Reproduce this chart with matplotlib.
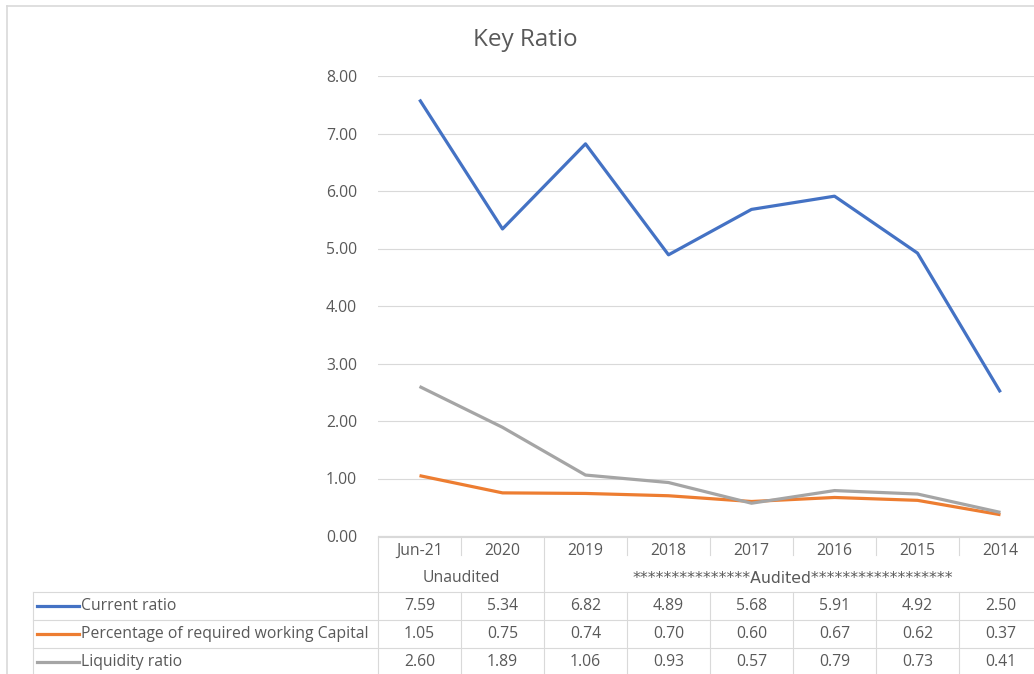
import matplotlib.pyplot as plt
import numpy as np

# data
categories = ["Jun-21", "2020", "2019", "2018", "2017", "2016", "2015", "2014"]
groups = [("Unaudited", 0, 1), ("***************Audited******************", 2, 7)]
series_names = ["Current ratio", "Percentage of required working Capital", "Liquidity ratio"]
current_ratio = [7.59, 5.34, 6.82, 4.89, 5.68, 5.91, 4.92, 2.50]
working_capital = [1.05, 0.75, 0.74, 0.70, 0.60, 0.67, 0.62, 0.37]
liquidity_ratio = [2.60, 1.89, 1.06, 0.93, 0.57, 0.79, 0.73, 0.41]
series = [current_ratio, working_capital, liquidity_ratio]
colors = ["#4472C4", "#ED7D31", "#A5A5A5"]

plt.rcParams['font.family'] = ['Open Sans', 'DejaVu Sans']
W, H = 1034, 674
fig = plt.figure(figsize=(W / 100, H / 100), dpi=100)
tc = "#595959"
fs = 11.3

# plot area in pixel coords
px_left, px_right, px_top, px_bot = 378, 1042, 76, 536
ax = fig.add_axes([px_left / W, 1 - px_bot / H, (px_right - px_left) / W, (px_bot - px_top) / H])
x = np.arange(len(categories))
for vals, c in zip(series, colors):
    ax.plot(x, vals, color=c, lw=2.3, solid_capstyle='butt', zorder=3)
ax.set_xlim(-0.5, len(categories) - 0.5)
ax.set_ylim(0, 8)
ax.set_yticks(np.arange(0, 9, 1))
ax.set_yticklabels([f"{v:.2f}" for v in np.arange(0, 9, 1)], color=tc, fontsize=fs)
ax.tick_params(axis='y', length=0, pad=15)
ax.set_xticks([])
ax.grid(axis='y', color="#D9D9D9", lw=0.8)
for s in ["top", "right", "left"]:
    ax.spines[s].set_visible(False)
ax.spines["bottom"].set_color("#D9D9D9")

# overlay in pixel coords for title, data table and frame
ov = fig.add_axes([0, 0, 1, 1], zorder=-1)
ov.set_xlim(0, W)
ov.set_ylim(H, 0)
ov.axis('off')
gc = "#D9D9D9"
ov.plot([7, W], [6, 6], color=gc, lw=1.2)
ov.plot([7, 7], [6, H], color=gc, lw=1.2)
ov.text(525, 40, "Key Ratio", ha='center', va='center', fontsize=17.5, color=tc)

col_w = (px_right - px_left) / len(categories)
centers = [px_left + col_w * (i + 0.5) for i in range(len(categories))]
edges = [px_left + col_w * i for i in range(len(categories) + 1)]
r0, r1, r2 = 537, 565, 592
row_h = 28

ov.plot([px_left, W], [r0, r0], color=gc, lw=0.8)
ov.plot([33, W], [r2, r2], color=gc, lw=0.8)
ov.plot([px_left, px_left], [r0, H], color=gc, lw=0.8)
for i, e in enumerate(edges[1:-1], start=1):
    full = any(g[1] == i for g in groups)
    ov.plot([e, e], [r0, r2 if full else r0 + 18], color=gc, lw=0.8)
    ov.plot([e, e], [r2, H], color=gc, lw=0.8)
for c, lab in zip(centers, categories):
    ov.text(c, (r0 + r1) / 2, lab, ha='center', va='center', fontsize=fs, color=tc)
for lab, a, b in groups:
    ov.text((centers[a] + centers[b]) / 2, (r1 + r2) / 2, lab, ha='center', va='center',
            fontsize=fs, color=tc, family=['DejaVu Sans'] if '*' in lab else None)

ov.plot([33, 33], [r2, H], color=gc, lw=0.8)
for j, (name, vals, c) in enumerate(zip(series_names, series, colors)):
    top = r2 + j * row_h
    ov.plot([33, W], [top + row_h, top + row_h], color=gc, lw=0.8)
    yc = top + row_h / 2
    ov.plot([37, 79], [yc, yc], color=c, lw=2.3)
    ov.text(81, yc, name, ha='left', va='center', fontsize=fs, color=tc)
    for cx, v in zip(centers, vals):
        ov.text(cx, yc, f"{v:.2f}", ha='center', va='center', fontsize=fs, color=tc)

fig.savefig("out.png", dpi=100)
